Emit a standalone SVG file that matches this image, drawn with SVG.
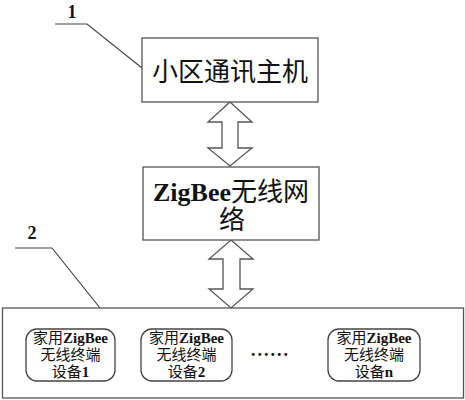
<svg xmlns="http://www.w3.org/2000/svg" width="465" height="400" viewBox="0 0 465 400">
<style>
.box{fill:#fff;stroke:#555;stroke-width:1.3}
.rbox{fill:#fff;stroke:#444;stroke-width:1.3}
.lead{fill:none;stroke:#444;stroke-width:1.2}
.arr{fill:#fff;stroke:#555;stroke-width:1.3;stroke-linejoin:miter}
.big{font-family:"Liberation Serif","Noto Sans CJK SC",serif;font-size:26px;fill:#111;text-anchor:middle}
.sm{font-family:"Liberation Serif","Noto Sans CJK SC",serif;font-size:15px;fill:#111;text-anchor:middle}
.lat{font-weight:bold}
.num{font-family:"Liberation Serif",serif;font-weight:bold;font-size:18px;fill:#111;text-anchor:middle}
</style>
<rect width="465" height="400" fill="#fff"/>
<g id="labels">
<text class="num" x="72" y="18">1</text>
<text class="num" x="32" y="239">2</text>
</g>
<g id="connectors">
<polyline class="lead" points="55,24 87,24 142,68"/>
<polyline class="lead" points="15,248 52,248 100,308"/>
<polygon class="arr" points="230,102 252,122 238,122 238,148 252,148 230,166 208,148 222,148 222,122 208,122"/>
<polygon class="arr" points="231,240 253,259 240,259 240,289 253,289 231,308 209,289 223,289 223,259 209,259"/>
</g>
<g id="host">
<rect class="box" x="142" y="38" width="176" height="64"/>
<text class="big" x="230" y="81">小区通讯主机</text>
</g>
<g id="network">
<rect class="box" x="143" y="167" width="176" height="73"/>
<text class="big" x="231" y="201"><tspan class="lat">ZigBee</tspan>无线网</text>
<text class="big" x="232" y="229">络</text>
</g>
<g id="home">
<rect class="box" x="2.5" y="308" width="461" height="90"/>
</g>
<g id="dev1">
<rect class="rbox" x="26" y="329" width="89" height="52" rx="11"/>
<text class="sm" x="70.5" y="343"><tspan>家用</tspan><tspan class="lat">ZigBee</tspan></text>
<text class="sm" x="70.5" y="360">无线终端</text>
<text class="sm" x="70.5" y="377">设备<tspan class="lat">1</tspan></text>
</g>
<g id="dev2">
<rect class="rbox" x="141" y="329" width="91" height="52" rx="11"/>
<text class="sm" x="186.5" y="343"><tspan>家用</tspan><tspan class="lat">ZigBee</tspan></text>
<text class="sm" x="186.5" y="360">无线终端</text>
<text class="sm" x="186.5" y="377">设备<tspan class="lat">2</tspan></text>
</g>
<g id="dots">
<text x="251" y="356" style="font-family:'Liberation Serif',serif;font-weight:bold;font-size:18px;letter-spacing:2px;fill:#111">......</text>
</g>
<g id="devn">
<rect class="rbox" x="328" y="329" width="92" height="52" rx="11"/>
<text class="sm" x="374" y="343"><tspan>家用</tspan><tspan class="lat">ZigBee</tspan></text>
<text class="sm" x="374" y="360">无线终端</text>
<text class="sm" x="374" y="377">设备<tspan class="lat">n</tspan></text>
</g>
</svg>
